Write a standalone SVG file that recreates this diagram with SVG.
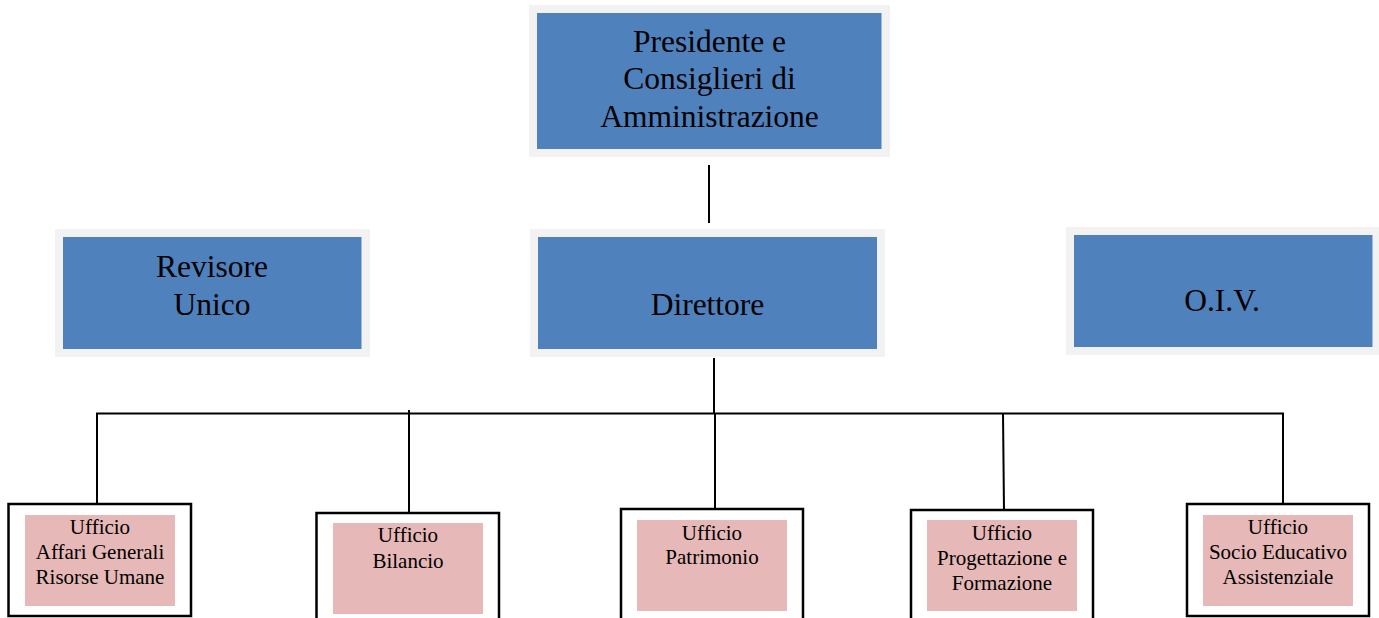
<svg xmlns="http://www.w3.org/2000/svg" width="1379" height="618" viewBox="0 0 1379 618">
<style>
.frame{fill:#f2f2f2}
.blue{fill:#4f81bd}
.box{fill:#ffffff;stroke:#000;stroke-width:2.5}
.pink{fill:#e6b8b7}
.big{font-family:"Liberation Serif","Times New Roman",serif;font-size:31.5px;fill:#000;text-anchor:middle}
.small{font-family:"Liberation Serif","Times New Roman",serif;font-size:21px;fill:#000;text-anchor:middle}
.ln{stroke:#000;stroke-width:2;fill:none}
</style>
<rect width="1379" height="618" fill="#ffffff"/>
<g id="connectors">
<line class="ln" x1="709" y1="165" x2="709" y2="223"/>
<line class="ln" x1="714" y1="358" x2="714" y2="414"/>
<line class="ln" x1="96" y1="413.5" x2="1284" y2="413.5"/>
<line class="ln" x1="97" y1="413" x2="97" y2="504"/>
<line class="ln" x1="409" y1="410" x2="409" y2="512"/>
<line class="ln" x1="715" y1="413" x2="715" y2="509"/>
<line class="ln" x1="1003" y1="413" x2="1004" y2="510"/>
<line class="ln" x1="1283" y1="413" x2="1283" y2="504"/>
</g>
<g id="presidente">
<rect class="frame" x="529" y="5" width="361" height="152"/>
<rect class="blue" x="537" y="13" width="344.5" height="136"/>
<text class="big" x="709.5" y="52">Presidente e</text>
<text class="big" x="709.5" y="89">Consiglieri di</text>
<text class="big" x="709.5" y="126.5">Amministrazione</text>
</g>
<g id="revisore">
<rect class="frame" x="55" y="229" width="315" height="128"/>
<rect class="blue" x="63" y="237" width="298.5" height="112"/>
<text class="big" x="212" y="277">Revisore</text>
<text class="big" x="212" y="314.5">Unico</text>
</g>
<g id="direttore">
<rect class="frame" x="530" y="229" width="355" height="128"/>
<rect class="blue" x="538" y="237" width="339" height="112"/>
<text class="big" x="707.5" y="315">Direttore</text>
</g>
<g id="oiv">
<rect class="frame" x="1066" y="227" width="313" height="128"/>
<rect class="blue" x="1074" y="235" width="298.5" height="112"/>
<text class="big" x="1222" y="311">O.I.V.</text>
</g>
<g id="ufficio-affari">
<rect class="box" x="8.5" y="504" width="182.5" height="112"/>
<rect class="pink" x="25" y="515" width="150" height="91"/>
<text class="small" x="100" y="533.5">Ufficio</text>
<text class="small" x="100" y="558.5">Affari Generali</text>
<text class="small" x="100" y="583.5">Risorse Umane</text>
</g>
<g id="ufficio-bilancio">
<rect class="box" x="316.5" y="513" width="182.5" height="112"/>
<rect class="pink" x="333" y="523" width="150" height="91"/>
<text class="small" x="408" y="542">Ufficio</text>
<text class="small" x="408" y="567.5">Bilancio</text>
</g>
<g id="ufficio-patrimonio">
<rect class="box" x="621" y="509" width="182" height="112"/>
<rect class="pink" x="637" y="520" width="150" height="91"/>
<text class="small" x="712" y="540">Ufficio</text>
<text class="small" x="712" y="564">Patrimonio</text>
</g>
<g id="ufficio-progettazione">
<rect class="box" x="911" y="510" width="182" height="112"/>
<rect class="pink" x="927" y="520" width="150" height="91"/>
<text class="small" x="1002" y="540">Ufficio</text>
<text class="small" x="1002" y="565">Progettazione e</text>
<text class="small" x="1002" y="589.5">Formazione</text>
</g>
<g id="ufficio-socio">
<rect class="box" x="1187" y="504" width="182" height="112"/>
<rect class="pink" x="1203" y="515" width="150" height="91"/>
<text class="small" x="1278" y="533.5">Ufficio</text>
<text class="small" x="1278" y="558.5">Socio Educativo</text>
<text class="small" x="1278" y="583.5">Assistenziale</text>
</g>
</svg>
